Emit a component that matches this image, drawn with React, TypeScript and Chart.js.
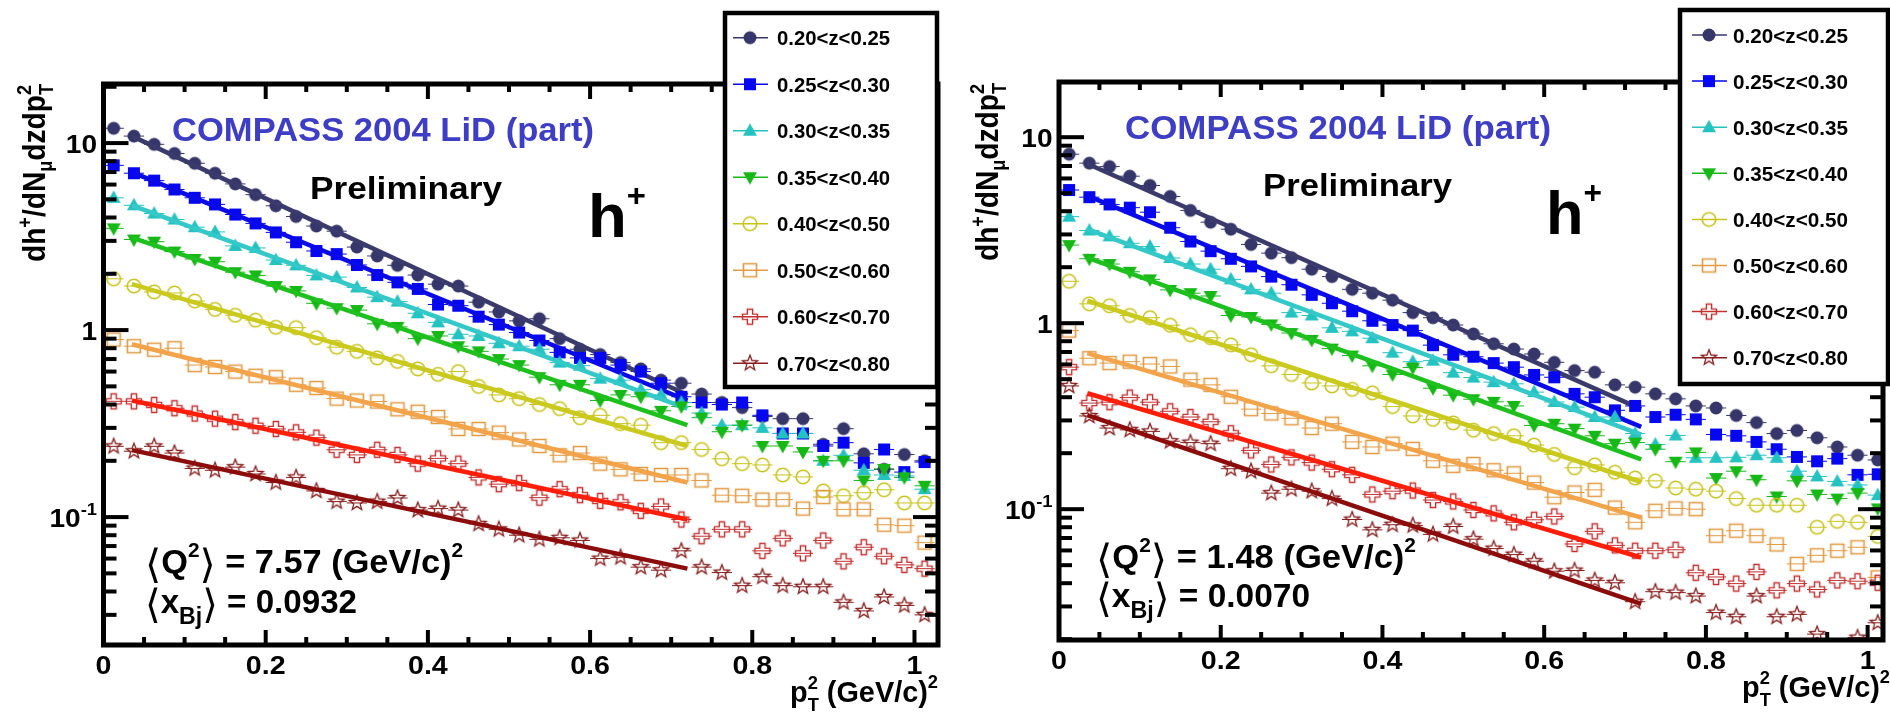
import React, { useEffect, useRef } from "react";
import { Chart, registerables } from "chart.js";

Chart.register(...registerables);

// ---------------- data ----------------
const PT2_BINS = [
  0.0125, 0.0375, 0.0625, 0.0875, 0.1125, 0.1375, 0.1625, 0.1875, 0.2125, 0.2375,
  0.2625, 0.2875, 0.3125, 0.3375, 0.3625, 0.3875, 0.4125, 0.4375, 0.4625, 0.4875,
  0.5125, 0.5375, 0.5625, 0.5875, 0.6125, 0.6375, 0.6625, 0.6875, 0.7125, 0.7375,
  0.7625, 0.7875, 0.8125, 0.8375, 0.8625, 0.8875, 0.9125, 0.9375, 0.9625, 0.9875,
  1.0125,
];
const PT2_HALF_BIN = 0.0125;

const Z_BIN_LABELS = [
  "0.20<z<0.25", "0.25<z<0.30", "0.30<z<0.35", "0.35<z<0.40",
  "0.40<z<0.50", "0.50<z<0.60", "0.60<z<0.70", "0.70<z<0.80",
];

const X_TICK_VALUES = [0, 0.2, 0.4, 0.6, 0.8, 1];
const X_TICK_LABELS = ["0", "0.2", "0.4", "0.6", "0.8", "1"];
const Y_TICK_VALUES = [0.1, 1, 10];
const Y_TICK_MANTISSA = ["10", "1", "10"];
const Y_TICK_EXPONENT = ["-1", "", ""];

const FIT_RANGE = [0.035, 0.72];

// left panel:  <Q^2> = 7.57, <x_Bj> = 0.0932
const LEFT_Z20 = [12.0, 10.9, 9.85, 8.8, 7.8, 6.9, 6.05, 5.3, 4.62, 4.05, 3.6, 3.38, 2.78, 2.49, 2.22, 1.97, 1.76, 1.72, 1.41, 1.25, 1.12, 1.15, 0.9, 0.79, 0.74, 0.67, 0.62, 0.54, 0.52, 0.455, 0.41, 0.385, 0.345, 0.336, 0.336, 0.245, 0.297, 0.218, 0.18, 0.216, 0.2];
const LEFT_Z25 = [7.6, 6.9, 6.3, 5.65, 5.1, 4.7, 4.15, 3.72, 3.33, 2.95, 2.65, 2.55, 2.23, 1.97, 1.8, 1.66, 1.37, 1.35, 1.18, 1.07, 0.97, 0.88, 0.76, 0.71, 0.71, 0.65, 0.6, 0.52, 0.44, 0.41, 0.4, 0.41, 0.35, 0.28, 0.28, 0.24, 0.25, 0.195, 0.23, 0.174, 0.197];
const LEFT_Z30 = [5.1, 4.65, 4.2, 3.9, 3.55, 3.35, 2.82, 2.75, 2.37, 2.22, 1.96, 1.92, 1.69, 1.5, 1.42, 1.23, 1.1, 0.95, 0.93, 0.85, 0.82, 0.79, 0.67, 0.645, 0.55, 0.54, 0.48, 0.45, 0.41, 0.36, 0.31, 0.31, 0.3, 0.28, 0.28, 0.2, 0.214, 0.178, 0.168, 0.166, 0.141];
const LEFT_Z35 = [3.5, 3.05, 2.97, 2.63, 2.4, 2.32, 2.04, 1.96, 1.72, 1.62, 1.39, 1.31, 1.28, 1.08, 1.04, 0.9, 0.93, 0.82, 0.77, 0.7, 0.65, 0.56, 0.51, 0.51, 0.42, 0.45, 0.44, 0.37, 0.39, 0.34, 0.286, 0.31, 0.24, 0.24, 0.223, 0.2, 0.2, 0.157, 0.181, 0.163, 0.147];
const LEFT_Z40 = [1.88, 1.72, 1.6, 1.58, 1.43, 1.29, 1.2, 1.13, 1.035, 1.03, 0.91, 0.81, 0.77, 0.71, 0.68, 0.62, 0.58, 0.6, 0.5, 0.45, 0.43, 0.4, 0.38, 0.34, 0.35, 0.316, 0.31, 0.25, 0.25, 0.23, 0.205, 0.193, 0.19, 0.168, 0.164, 0.138, 0.13, 0.135, 0.14, 0.119, 0.119];
const LEFT_Z50 = [0.89, 0.82, 0.785, 0.8, 0.65, 0.635, 0.6, 0.57, 0.56, 0.51, 0.49, 0.43, 0.42, 0.415, 0.377, 0.366, 0.343, 0.296, 0.296, 0.283, 0.26, 0.24, 0.214, 0.22, 0.193, 0.18, 0.17, 0.168, 0.168, 0.157, 0.131, 0.13, 0.124, 0.124, 0.111, 0.128, 0.11, 0.11, 0.091, 0.09, 0.073];
const LEFT_Z60 = [0.416, 0.416, 0.398, 0.382, 0.358, 0.336, 0.322, 0.308, 0.296, 0.284, 0.266, 0.229, 0.215, 0.229, 0.215, 0.193, 0.206, 0.193, 0.163, 0.15, 0.152, 0.127, 0.141, 0.131, 0.122, 0.12, 0.108, 0.114, 0.097, 0.079, 0.086, 0.086, 0.066, 0.077, 0.064, 0.075, 0.058, 0.069, 0.0617, 0.0555, 0.053];
const LEFT_Z70 = [0.239, 0.225, 0.239, 0.22, 0.182, 0.178, 0.185, 0.17, 0.153, 0.163, 0.138, 0.121, 0.119, 0.121, 0.1265, 0.109, 0.111, 0.109, 0.092, 0.086, 0.08, 0.076, 0.0775, 0.075, 0.06, 0.061, 0.054, 0.052, 0.066, 0.054, 0.0505, 0.043, 0.048, 0.043, 0.0424, 0.0424, 0.035, 0.0315, 0.0374, 0.0337, 0.03];
const LEFT_FIT_START = [10.9, 7.0, 4.65, 3.12, 1.76, 0.84, 0.42, 0.228];
const LEFT_FIT_END = [0.45, 0.42, 0.38, 0.31, 0.24, 0.153, 0.097, 0.053];

// right panel:  <Q^2> = 1.48, <x_Bj> = 0.0070
const RIGHT_Z20 = [8.1, 7.25, 6.95, 6.17, 5.5, 4.8, 4.04, 3.49, 3.2, 2.65, 2.38, 2.25, 1.95, 1.78, 1.52, 1.45, 1.33, 1.14, 1.07, 0.977, 0.875, 0.775, 0.726, 0.683, 0.616, 0.556, 0.545, 0.466, 0.453, 0.417, 0.392, 0.359, 0.35, 0.319, 0.292, 0.255, 0.265, 0.242, 0.216, 0.195, 0.184];
const RIGHT_Z25 = [5.2, 4.76, 4.35, 4.18, 3.95, 3.26, 2.75, 2.44, 2.22, 2.02, 1.78, 1.61, 1.42, 1.28, 1.16, 1.03, 0.977, 0.912, 0.762, 0.676, 0.66, 0.61, 0.58, 0.527, 0.512, 0.417, 0.4, 0.34, 0.359, 0.313, 0.322, 0.304, 0.252, 0.248, 0.23, 0.21, 0.191, 0.181, 0.187, 0.153, 0.154];
const RIGHT_Z30 = [3.74, 3.15, 2.93, 2.69, 2.58, 2.24, 2.08, 1.95, 1.72, 1.52, 1.45, 1.14, 1.1, 0.944, 0.904, 0.83, 0.694, 0.621, 0.629, 0.542, 0.51, 0.482, 0.472, 0.426, 0.377, 0.354, 0.313, 0.313, 0.255, 0.223, 0.249, 0.189, 0.189, 0.19, 0.195, 0.189, 0.16, 0.15, 0.141, 0.135, 0.119];
const RIGHT_Z35 = [2.63, 2.22, 2.08, 1.89, 1.72, 1.51, 1.45, 1.4, 1.1, 1.08, 0.985, 0.885, 0.813, 0.73, 0.67, 0.59, 0.53, 0.577, 0.447, 0.41, 0.39, 0.378, 0.359, 0.282, 0.288, 0.271, 0.248, 0.225, 0.228, 0.21, 0.18, 0.202, 0.147, 0.16, 0.144, 0.117, 0.142, 0.12, 0.114, 0.122, 0.101];
const RIGHT_Z40 = [1.68, 1.27, 1.24, 1.1, 1.07, 0.975, 0.867, 0.835, 0.765, 0.676, 0.59, 0.53, 0.477, 0.46, 0.441, 0.422, 0.356, 0.317, 0.304, 0.291, 0.266, 0.255, 0.248, 0.221, 0.197, 0.167, 0.173, 0.158, 0.147, 0.142, 0.13, 0.128, 0.125, 0.114, 0.105, 0.105, 0.105, 0.08, 0.086, 0.085, 0.0714];
const RIGHT_Z50 = [0.912, 0.648, 0.61, 0.621, 0.603, 0.585, 0.497, 0.466, 0.402, 0.345, 0.327, 0.308, 0.273, 0.288, 0.23, 0.216, 0.225, 0.211, 0.182, 0.171, 0.175, 0.162, 0.156, 0.139, 0.116, 0.123, 0.127, 0.102, 0.085, 0.098, 0.101, 0.1, 0.072, 0.0766, 0.072, 0.0646, 0.0508, 0.0565, 0.0598, 0.0624, 0.043];
const RIGHT_Z60 = [0.58, 0.372, 0.376, 0.398, 0.376, 0.336, 0.313, 0.295, 0.256, 0.207, 0.174, 0.19, 0.178, 0.164, 0.153, 0.12, 0.125, 0.126, 0.112, 0.11, 0.099, 0.095, 0.085, 0.0877, 0.0914, 0.065, 0.076, 0.0639, 0.0598, 0.0598, 0.0605, 0.0455, 0.0432, 0.0398, 0.046, 0.0366, 0.0398, 0.037, 0.0414, 0.041, 0.0402];
const RIGHT_Z70 = [0.46, 0.317, 0.273, 0.267, 0.262, 0.232, 0.228, 0.225, 0.165, 0.16, 0.122, 0.128, 0.125, 0.114, 0.088, 0.0774, 0.0825, 0.0818, 0.0732, 0.0807, 0.069, 0.0614, 0.057, 0.0525, 0.0464, 0.0468, 0.0414, 0.0402, 0.0318, 0.036, 0.0356, 0.0341, 0.0278, 0.0264, 0.0341, 0.0264, 0.0272, 0.0213, null, 0.0204, 0.0245];
const RIGHT_FIT_START = [7.2, 4.85, 3.2, 2.25, 1.32, 0.69, 0.42, 0.32];
const RIGHT_FIT_END = [0.345, 0.277, 0.252, 0.185, 0.14, 0.09, 0.055, 0.031];

// ---------------- styles ----------------
const MARKER_KINDS = ["circleFilled", "squareFilled", "triUpFilled", "triDownFilled", "circleOpen", "squareOpen", "crossOpen", "starOpen"];
const MARKER_COLORS = ["#36366b", "#0606f0", "#25c2c2", "#16b816", "#c8c41c", "#e39a42", "#c43030", "#8a1e1e"];
const FIT_COLORS = ["#3a3a6c", "#0a0ae8", "#35c8c8", "#1ec01e", "#c9c91e", "#f3a34a", "#ff1e0a", "#8c0c0c"];
const TEXT_FONT = '"Liberation Sans", Arial, Helvetica, sans-serif';
const BRACKET_FONT = '"DejaVu Sans", "Liberation Sans", sans-serif';
const COMPASS_BLUE = "#3d3dc6";

function makeMarker(kind, color) {
  const c = document.createElement("canvas");
  c.width = 22;
  c.height = 22;
  const g = c.getContext("2d");
  g.translate(11, 11);
  g.fillStyle = color;
  g.strokeStyle = color;
  g.lineWidth = 1.6;
  g.lineJoin = "miter";
  g.beginPath();
  if (kind === "circleFilled") {
    g.arc(0, 0, 6.5, 0, Math.PI * 2);
    g.fill();
  } else if (kind === "squareFilled") {
    g.rect(-6, -6, 12, 12);
    g.fill();
  } else if (kind === "triUpFilled") {
    g.moveTo(0, -7.5); g.lineTo(7, 5); g.lineTo(-7, 5); g.closePath();
    g.fill();
  } else if (kind === "triDownFilled") {
    g.moveTo(0, 7.5); g.lineTo(7, -5); g.lineTo(-7, -5); g.closePath();
    g.fill();
  } else if (kind === "circleOpen") {
    g.arc(0, 0, 6.8, 0, Math.PI * 2);
    g.stroke();
  } else if (kind === "squareOpen") {
    g.rect(-6.5, -6.5, 13, 13);
    g.stroke();
  } else if (kind === "crossOpen") {
    const a = 2.6, b = 7.5;
    const pts = [[-a, -b], [a, -b], [a, -a], [b, -a], [b, a], [a, a], [a, b], [-a, b], [-a, a], [-b, a], [-b, -a], [-a, -a]];
    g.moveTo(pts[0][0], pts[0][1]);
    for (let i = 1; i < pts.length; i++) g.lineTo(pts[i][0], pts[i][1]);
    g.closePath();
    g.lineWidth = 1.4;
    g.stroke();
  } else if (kind === "starOpen") {
    for (let k = 0; k < 10; k++) {
      const r = k % 2 ? 3.4 : 8;
      const ang = -Math.PI / 2 + (k * Math.PI) / 5;
      const px = r * Math.cos(ang), py = r * Math.sin(ang);
      if (k === 0) g.moveTo(px, py); else g.lineTo(px, py);
    }
    g.closePath();
    g.lineWidth = 1.3;
    g.stroke();
  }
  return c;
}

// ---------------- rich text helpers ----------------
function fontOf(size, weight, family) {
  return `${weight || "bold"} ${size}px ${family || TEXT_FONT}`;
}
function segWidth(ctx, s) {
  if (s.stack) {
    let w = 0;
    for (const e of s.stack) {
      ctx.font = fontOf(e.size, e.weight, e.family);
      w = Math.max(w, ctx.measureText(e.t).width);
    }
    return w;
  }
  ctx.font = fontOf(s.size, s.weight, s.family);
  return ctx.measureText(s.t).width + (s.gap || 0);
}
function drawRich(ctx, segs, x, y, o) {
  const natural = segs.reduce((a, s) => a + segWidth(ctx, s), 0);
  const sx = o.width ? o.width / natural : o.scaleX || 1;
  const total = natural * sx;
  ctx.save();
  ctx.fillStyle = o.color || "#000";
  ctx.textBaseline = "alphabetic";
  ctx.textAlign = "left";
  const start = o.align === "right" ? x - total : o.align === "center" ? x - total / 2 : x;
  ctx.translate(start, y);
  ctx.scale(sx, 1);
  let cx = 0;
  for (const s of segs) {
    const w = segWidth(ctx, s);
    if (s.stack) {
      for (const e of s.stack) {
        ctx.font = fontOf(e.size, e.weight, e.family);
        ctx.fillText(e.t, cx, e.dy || 0);
      }
    } else {
      ctx.font = fontOf(s.size, s.weight, s.family);
      ctx.fillText(s.t, cx, s.dy || 0);
    }
    cx += w;
  }
  ctx.restore();
}

const LBR = { t: "\u27E8", size: 40, weight: "normal", family: BRACKET_FONT, dy: 5 };
const RBR = { t: "\u27E9", size: 40, weight: "normal", family: BRACKET_FONT, dy: 5 };

// ---------------- panel plugin ----------------
const rootStylePlugin = {
  id: "rootStyle",
  beforeDatasetsDraw(chart, _args, cfg) {
    const ctx = chart.ctx;
    const xs = chart.scales.x, ys = chart.scales.y;
    const { left, right, top, bottom } = chart.chartArea;
    ctx.save();
    ctx.beginPath();
    ctx.rect(left, top, right - left, bottom - top);
    ctx.clip();
    ctx.lineWidth = 1;
    chart.data.datasets.forEach((ds) => {
      if (!ds.isData) return;
      ctx.strokeStyle = ds.markerColor;
      ds.data.forEach((p) => {
        const py = ys.getPixelForValue(p.y);
        ctx.beginPath();
        ctx.moveTo(xs.getPixelForValue(p.x - PT2_HALF_BIN), py);
        ctx.lineTo(xs.getPixelForValue(p.x + PT2_HALF_BIN), py);
        ctx.stroke();
      });
    });
    ctx.restore();
  },
  afterDatasetsDraw(chart, _args, cfg) {
    const ctx = chart.ctx;
    const xs = chart.scales.x, ys = chart.scales.y;
    const { left, right, top, bottom } = chart.chartArea;
    const ox = cfg.offsetX;
    const P = cfg.pos;
    ctx.save();
    // ticks
    ctx.strokeStyle = "#000";
    ctx.lineWidth = 4;
    ctx.lineCap = "butt";
    const line = (x1, y1, x2, y2) => {
      ctx.beginPath();
      ctx.moveTo(x1, y1);
      ctx.lineTo(x2, y2);
      ctx.stroke();
    };
    for (let k = 0; k * 0.05 <= cfg.xMax + 1e-9; k++) {
      const px = xs.getPixelForValue(k * 0.05);
      const len = k % 4 === 0 ? 15 : 8;
      line(px, bottom, px, bottom - len);
      line(px, top, px, top + len);
    }
    [0.01, 0.1, 1, 10].forEach((d) => {
      for (let m = 1; m <= 9; m++) {
        const v = m * d;
        if (v < cfg.yMin || v > cfg.yMax) continue;
        const py = ys.getPixelForValue(v);
        const len = m === 1 ? 25 : 13;
        line(left, py, left + len, py);
        line(right, py, right - len, py);
      }
    });
    // frame
    ctx.lineWidth = 5;
    ctx.lineJoin = "miter";
    ctx.strokeRect(left, top, right - left, bottom - top);

    // tick labels
    X_TICK_VALUES.forEach((v, i) => {
      drawRich(ctx, [{ t: X_TICK_LABELS[i], size: 26 }], xs.getPixelForValue(v), bottom + 29, { align: "center", scaleX: 1.1 });
    });
    Y_TICK_VALUES.forEach((v, i) => {
      const segs = [{ t: Y_TICK_MANTISSA[i], size: 26 }];
      if (Y_TICK_EXPONENT[i]) segs.push({ t: Y_TICK_EXPONENT[i], size: 17, dy: -12 });
      drawRich(ctx, segs, left - 6.5, ys.getPixelForValue(v) + 9.5, { align: "right", scaleX: 1.08 });
    });

    // axis titles
    ctx.save();
    ctx.translate(P.yTitle.x - ox, P.yTitle.y);
    ctx.rotate(-Math.PI / 2);
    drawRich(ctx, [
      { t: "dh", size: 31 },
      { t: "+", size: 20, dy: -13 },
      { t: "/dN", size: 31 },
      { t: "\u03BC", size: 20, dy: 7 },
      { t: "dzdp", size: 31 },
      { stack: [{ t: "2", size: 20, dy: -14 }, { t: "T", size: 20, dy: 8 }] },
    ], 0, 0, { align: "center", width: 178 });
    ctx.restore();
    drawRich(ctx, [
      { t: "p", size: 30 },
      { stack: [{ t: "2", size: 19, dy: -13 }, { t: "T", size: 19, dy: 9 }] },
      { t: " (GeV/c)", size: 30 },
      { t: "2", size: 19, dy: -14 },
    ], P.xTitle.x - ox, P.xTitle.y, { align: "right", width: P.xTitle.w });

    // annotations
    drawRich(ctx, [{ t: "COMPASS 2004 LiD (part)", size: 33 }], P.compass.x - ox, P.compass.y, { width: P.compass.w, color: COMPASS_BLUE });
    drawRich(ctx, [{ t: "Preliminary", size: 32 }], P.prelim.x - ox, P.prelim.y, { width: P.prelim.w });
    drawRich(ctx, [{ t: "h", size: 62 }, { t: "+", size: 32, dy: -31 }], P.hplus.x - ox, P.hplus.y, { width: P.hplus.w });
    drawRich(ctx, [LBR, { t: "Q", size: 33 }, { t: "2", size: 20, dy: -16 }, RBR, { t: " = " + cfg.q2 + " (GeV/c)", size: 33 }, { t: "2", size: 20, dy: -16 }],
      P.q2.x - ox, P.q2.y, { width: P.q2.w });
    drawRich(ctx, [LBR, { t: "x", size: 33 }, { t: "Bj", size: 23, dy: 11 }, RBR, { t: " = " + cfg.xbj, size: 33 }],
      P.xbj.x - ox, P.xbj.y, { width: P.xbj.w });

    // legend
    const L = P.legend;
    ctx.fillStyle = "#fff";
    ctx.fillRect(L.x0 - ox, L.y0, L.x1 - L.x0, L.y1 - L.y0);
    ctx.strokeStyle = "#000";
    ctx.lineWidth = 4.5;
    ctx.strokeRect(L.x0 - ox, L.y0, L.x1 - L.x0, L.y1 - L.y0);
    Z_BIN_LABELS.forEach((lab, i) => {
      const y = L.firstY + i * L.dy;
      ctx.strokeStyle = MARKER_COLORS[i];
      ctx.lineWidth = 1.5;
      line(L.lineX0 - ox, y, L.lineX1 - ox, y);
      const m = cfg.markers[i];
      ctx.drawImage(m, L.markerX - ox - m.width / 2, y - m.height / 2);
      drawRich(ctx, [{ t: lab, size: 20.5 }], L.textX - ox, y + 7.5, { width: L.textW });
    });
    ctx.restore();
  },
};

// ---------------- panel configs ----------------
const LEFT_PANEL = {
  offsetX: 0,
  width: 945,
  padding: { left: 103.5, right: 4, top: 84, bottom: 69 },
  xMax: 1.029,
  yMin: 0.0207,
  yMax: 20.7,
  series: [LEFT_Z20, LEFT_Z25, LEFT_Z30, LEFT_Z35, LEFT_Z40, LEFT_Z50, LEFT_Z60, LEFT_Z70],
  fitStart: LEFT_FIT_START,
  fitEnd: LEFT_FIT_END,
  q2: "7.57",
  xbj: "0.0932",
  pos: {
    yTitle: { x: 45, y: 173 },
    xTitle: { x: 938, y: 702, w: 148 },
    compass: { x: 172, y: 141, w: 422 },
    prelim: { x: 310, y: 199, w: 192 },
    hplus: { x: 588, y: 237, w: 58 },
    q2: { x: 145, y: 573, w: 318 },
    xbj: { x: 145, y: 613, w: 212 },
    legend: { x0: 725, y0: 13, x1: 937, y1: 387, firstY: 37.7, dy: 46.5, lineX0: 733, lineX1: 768, markerX: 750, textX: 777, textW: 113 },
  },
};

const RIGHT_PANEL = {
  offsetX: 945,
  width: 945,
  padding: { left: 114, right: 3, top: 82, bottom: 74 },
  xMax: 1.019,
  yMin: 0.0198,
  yMax: 19.8,
  series: [RIGHT_Z20, RIGHT_Z25, RIGHT_Z30, RIGHT_Z35, RIGHT_Z40, RIGHT_Z50, RIGHT_Z60, RIGHT_Z70],
  fitStart: RIGHT_FIT_START,
  fitEnd: RIGHT_FIT_END,
  q2: "1.48",
  xbj: "0.0070",
  pos: {
    yTitle: { x: 998, y: 172 },
    xTitle: { x: 1890, y: 697, w: 148 },
    compass: { x: 1125, y: 139, w: 426 },
    prelim: { x: 1263, y: 196, w: 189 },
    hplus: { x: 1546, y: 234, w: 56 },
    q2: { x: 1096, y: 568, w: 320 },
    xbj: { x: 1096, y: 607, w: 214 },
    legend: { x0: 1680, y0: 10, x1: 1888, y1: 384, firstY: 35, dy: 46.1, lineX0: 1692, lineX1: 1727, markerX: 1709, textX: 1733, textW: 115 },
  },
};

function Panel({ cfg }) {
  const ref = useRef(null);
  useEffect(() => {
    const markers = MARKER_KINDS.map((k, i) => makeMarker(k, MARKER_COLORS[i]));
    const datasets = [];
    cfg.series.forEach((vals, i) => {
      datasets.push({
        label: Z_BIN_LABELS[i],
        isData: true,
        markerColor: MARKER_COLORS[i],
        data: PT2_BINS.map((x, j) => ({ x, y: vals[j] })).filter((p) => p.y != null),
        pointStyle: markers[i],
        pointRadius: 6,
        showLine: false,
        order: 100 - 2 * i,
      });
      datasets.push({
        label: Z_BIN_LABELS[i] + " fit",
        data: [
          { x: FIT_RANGE[0], y: cfg.fitStart[i] },
          { x: FIT_RANGE[1], y: cfg.fitEnd[i] },
        ],
        showLine: true,
        borderColor: FIT_COLORS[i],
        borderWidth: 4.5,
        pointRadius: 0,
        order: 99 - 2 * i,
      });
    });
    const chart = new Chart(ref.current, {
      type: "scatter",
      data: { datasets },
      options: {
        animation: false,
        responsive: false,
        devicePixelRatio: 1,
        layout: { padding: cfg.padding },
        scales: {
          x: { type: "linear", min: 0, max: cfg.xMax, display: false },
          y: { type: "logarithmic", min: cfg.yMin, max: cfg.yMax, display: false },
        },
        plugins: {
          legend: { display: false },
          tooltip: { enabled: false },
          rootStyle: { ...cfg, markers },
        },
      },
      plugins: [rootStylePlugin],
    });
    return () => chart.destroy();
  }, [cfg]);
  return (
    <canvas
      ref={ref}
      width={cfg.width}
      height={714}
      style={{ position: "absolute", left: cfg.offsetX, top: 0, width: cfg.width, height: 714 }}
    />
  );
}

export default function App() {
  return (
    <div style={{ position: "fixed", left: 0, top: 0, width: 1890, height: 714, overflow: "hidden", background: "#fff" }}>
      <Panel cfg={LEFT_PANEL} />
      <Panel cfg={RIGHT_PANEL} />
    </div>
  );
}
